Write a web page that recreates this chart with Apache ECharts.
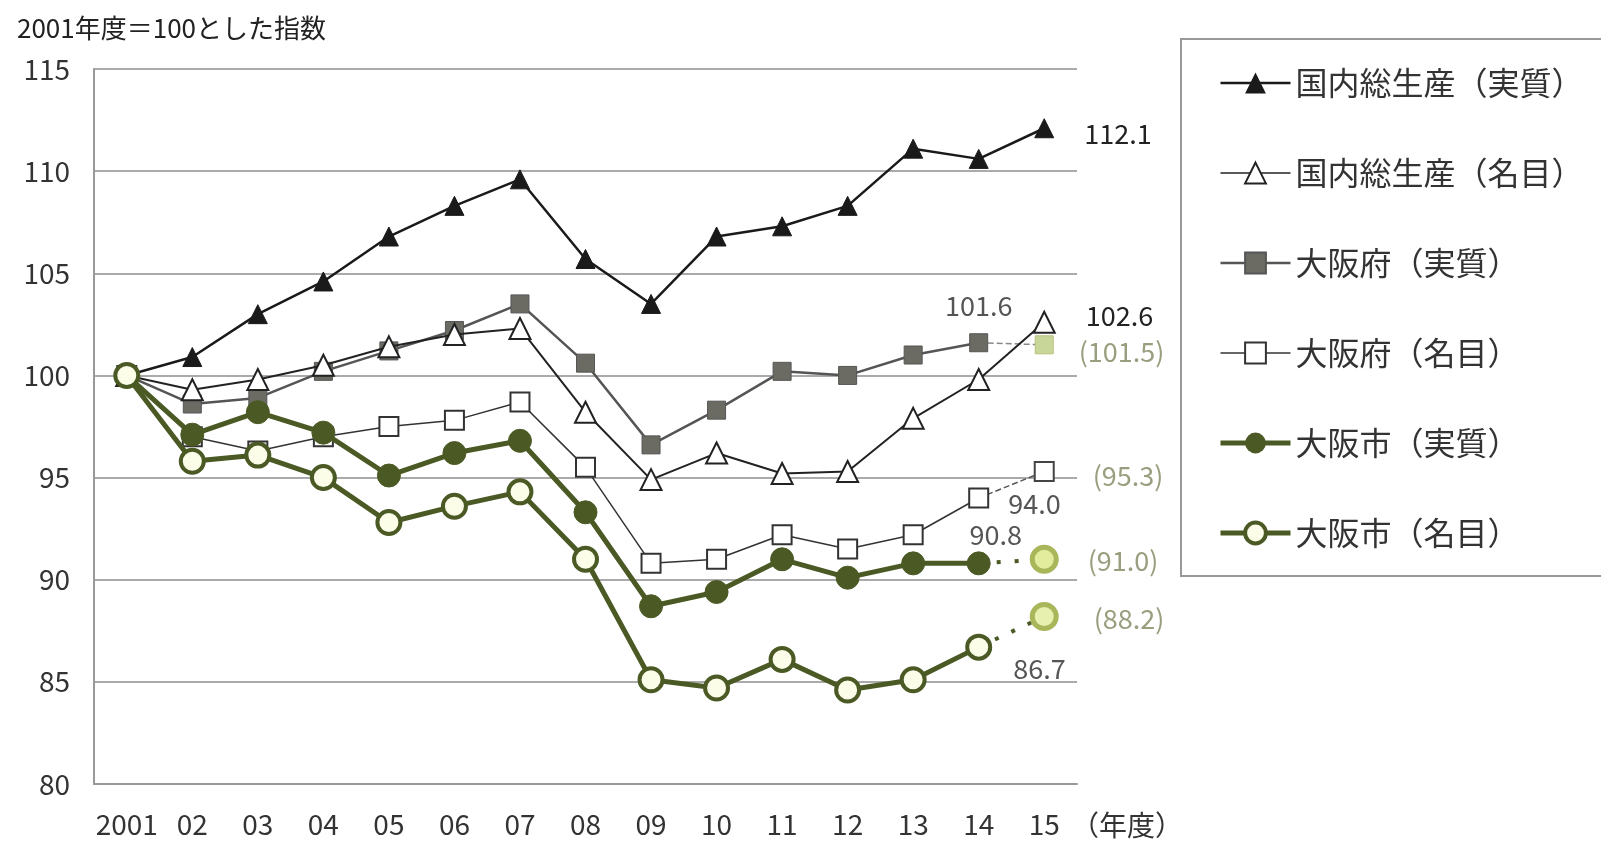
<!DOCTYPE html>
<html>
<head>
<meta charset="utf-8">
<script src="https://cdn.jsdelivr.net/npm/echarts@6/dist/echarts.min.js"></script>
<style>
  html, body { margin: 0; padding: 0; background: #fff; }
  #chart { width: 1601px; height: 841px; }
</style>
</head>
<body>
<div id="chart"></div>
<script>
// 年度
const years = ['2001', '02', '03', '04', '05', '06', '07', '08', '09', '10', '11', '12', '13', '14', '15']

// 2001年度=100とした指数
const gdpReal = [100, 100.9, 103.0, 104.6, 106.8, 108.3, 109.6, 105.7, 103.5, 106.8, 107.3, 108.3, 111.1, 110.6, 112.1]
const gdpNominal = [100, 99.3, 99.8, 100.5, 101.4, 102.0, 102.3, 98.2, 94.9, 96.2, 95.2, 95.3, 97.9, 99.8, 102.6]
const prefReal = [100, 98.6, 98.9, 100.2, 101.2, 102.2, 103.5, 100.6, 96.6, 98.3, 100.2, 100.0, 101.0, 101.6]
const prefNominal = [100, 97.0, 96.3, 97.0, 97.5, 97.8, 98.7, 95.5, 90.8, 91.0, 92.2, 91.5, 92.2, 94.0]
const cityReal = [100, 97.1, 98.2, 97.2, 95.1, 96.2, 96.8, 93.3, 88.7, 89.4, 91.0, 90.1, 90.8, 90.8]
const cityNominal = [100, 95.8, 96.1, 95.0, 92.8, 93.6, 94.3, 91.0, 85.1, 84.7, 86.1, 84.6, 85.1, 86.7]

// 15年度は見込み値（括弧書き）
const prefRealEst = 101.5
const prefNominalEst = 95.3
const cityRealEst = 91.0
const cityNominalEst = 88.2

const names = ['国内総生産（実質）', '国内総生産（名目）', '大阪府（実質）', '大阪府（名目）', '大阪市（実質）', '大阪市（名目）']

const FONT = 'Noto Sans CJK JP'
const GREEN = '#4b5a24'

const chart = echarts.init(document.getElementById('chart'))

const fmt = p => p.value.toFixed(1)
const fmtEst = p => '(' + p.value.toFixed(1) + ')'

// ラベル付きのデータを作る
const withLabel = (arr, idx, label) => arr.map((v, i) => i === idx ? { value: v, label: Object.assign({ show: true, formatter: fmt, fontSize: 27, fontFamily: FONT }, label) } : v)

// 見込み値の点線部分
const estData = (arr, est, label) => years.map((_, i) => {
  if (i === 13) return { value: arr[13], symbol: 'none' }
  if (i === 14) return { value: est, label: Object.assign({ show: true, formatter: fmtEst, fontSize: 27, fontFamily: FONT, color: '#9b9e7e' }, label) }
  return null
})

const option = {
  animation: false,
  backgroundColor: '#fff',
  textStyle: { fontFamily: FONT },
  title: {
    text: '2001年度＝100とした指数',
    left: 12,
    top: 10,
    textStyle: { fontSize: 26, fontWeight: 'normal', color: '#222', fontFamily: FONT }
  },
  legend: {
    data: [
      { name: names[0], lineStyle: { width: 2.5 } },
      { name: names[1], lineStyle: { width: 1.5 }, itemStyle: { borderWidth: 2 } },
      { name: names[2], lineStyle: { width: 2.5 } },
      { name: names[3], lineStyle: { width: 1.5 }, itemStyle: { borderWidth: 2 } },
      { name: names[4], lineStyle: { width: 5 } },
      { name: names[5], lineStyle: { width: 5 }, itemStyle: { borderWidth: 4 } }
    ],
    orient: 'vertical',
    left: 1181,
    top: 39,
    padding: [28, 22, 27, 37],
    itemWidth: 70,
    itemHeight: 26,
    itemGap: 58,
    borderColor: '#999',
    borderWidth: 2,
    textStyle: { fontSize: 32, color: '#333', lineHeight: 30, fontFamily: FONT }
  },
  grid: { left: 94, right: 524, top: 69, bottom: 57 },
  xAxis: {
    type: 'category',
    data: years,
    boundaryGap: true,
    name: '（年度）',
    nameLocation: 'end',
    nameGap: -6,
    nameTextStyle: { fontSize: 28, color: '#333', verticalAlign: 'top', align: 'left', padding: [27, 0, 0, 0] },
    axisLine: { lineStyle: { color: '#999', width: 2 } },
    axisTick: { inside: true, length: 8, lineStyle: { color: '#999', width: 1.5 } },
    axisLabel: { interval: 0, margin: 26, fontSize: 28, color: '#333' }
  },
  yAxis: {
    type: 'value',
    min: 80,
    max: 115,
    interval: 5,
    axisLine: { show: true, lineStyle: { color: '#999', width: 2 } },
    axisTick: { show: false },
    splitLine: { lineStyle: { color: '#aaa', width: 2 } },
    axisLabel: { margin: 24, fontSize: 28, color: '#333' }
  },
  series: [
    {
      name: names[0],
      type: 'line',
      data: withLabel(gdpReal, 14, { position: 'right', distance: 30, offset: [0, 5], color: '#222' }),
      symbol: 'triangle',
      symbolSize: 19,
      lineStyle: { color: '#1a1a1a', width: 2.5 },
      itemStyle: { color: '#1a1a1a', borderColor: '#1a1a1a' },
      z: 5
    },
    {
      name: names[1],
      type: 'line',
      data: withLabel(gdpNominal, 14, { position: 'right', distance: 30, offset: [0, -7], color: '#222' }),
      symbol: 'triangle',
      symbolSize: 21,
      lineStyle: { color: '#222', width: 2 },
      itemStyle: { color: '#fff', borderColor: '#222', borderWidth: 2 },
      z: 5
    },
    {
      name: names[2],
      type: 'line',
      data: withLabel(prefReal, 13, { position: 'top', distance: 14, color: '#555' }),
      symbol: 'rect',
      symbolSize: 18,
      lineStyle: { color: '#555', width: 2.5 },
      itemStyle: { color: '#6b6b63', borderColor: '#555', borderWidth: 1 },
      z: 3
    },
    {
      name: names[3],
      type: 'line',
      data: withLabel(prefNominal, 13, { position: 'right', distance: 19, offset: [0, 6], color: '#555' }),
      symbol: 'rect',
      symbolSize: 19,
      lineStyle: { color: '#333', width: 1.5 },
      itemStyle: { color: '#fff', borderColor: '#333', borderWidth: 2 },
      z: 3
    },
    {
      name: names[4],
      type: 'line',
      data: withLabel(cityReal, 13, { position: 'top', distance: 3, offset: [17, 0], color: '#555' }),
      symbol: 'circle',
      symbolSize: 23,
      lineStyle: { color: GREEN, width: 5 },
      itemStyle: { color: GREEN, borderColor: GREEN },
      z: 6
    },
    {
      name: names[5],
      type: 'line',
      data: withLabel(cityNominal, 13, { position: 'right', distance: 21, offset: [0, 22], color: '#555' }),
      symbol: 'circle',
      symbolSize: 23,
      lineStyle: { color: GREEN, width: 5 },
      itemStyle: { color: '#fcfde9', borderColor: GREEN, borderWidth: 4 },
      z: 7
    },
    // 見込み値
    {
      name: '大阪府（実質）見込',
      type: 'line',
      data: estData(prefReal, prefRealEst, { position: 'right', distance: 25, offset: [0, 7] }),
      symbol: 'rect',
      symbolSize: 18,
      lineStyle: { color: '#888', width: 1.5, type: 'dashed' },
      itemStyle: { color: '#c9d69a', borderColor: '#b4c27a', borderWidth: 1 },
      z: 3
    },
    {
      name: '大阪府（名目）見込',
      type: 'line',
      data: estData(prefNominal, prefNominalEst, { position: 'right', distance: 38, offset: [0, 4] }),
      symbol: 'rect',
      symbolSize: 19,
      lineStyle: { color: '#555', width: 1.5, type: 'dashed' },
      itemStyle: { color: '#fff', borderColor: '#444', borderWidth: 2 },
      z: 3
    },
    {
      name: '大阪市（実質）見込',
      type: 'line',
      data: estData(cityReal, cityRealEst, { position: 'right', distance: 29, offset: [0, 1] }),
      symbol: 'circle',
      symbolSize: 24,
      lineStyle: { color: GREEN, width: 4, type: [4, 14] },
      itemStyle: { color: '#e2ec9c', borderColor: '#a9b65a', borderWidth: 5 },
      z: 6
    },
    {
      name: '大阪市（名目）見込',
      type: 'line',
      data: estData(cityNominal, cityNominalEst, { position: 'right', distance: 35, offset: [0, 2] }),
      symbol: 'circle',
      symbolSize: 24,
      lineStyle: { color: GREEN, width: 4, type: [4, 14] },
      itemStyle: { color: '#e8f0b0', borderColor: '#a9b65a', borderWidth: 5 },
      z: 7
    }
  ]
}

chart.setOption(option)
</script>
</body>
</html>
